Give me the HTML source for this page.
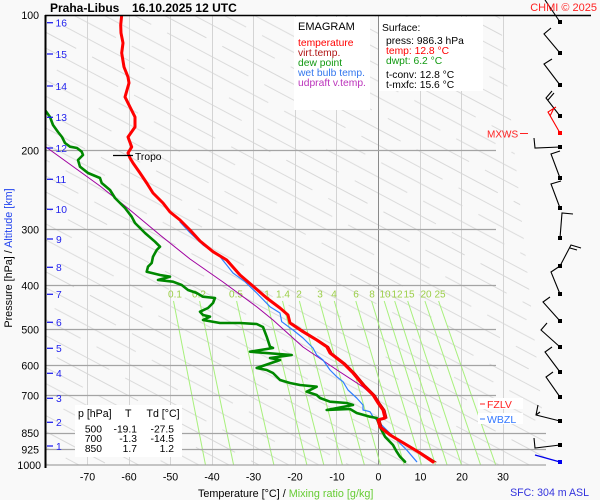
<!DOCTYPE html>
<html><head><meta charset="utf-8"><style>
html,body{margin:0;padding:0;background:#f9f9f9;}
svg{display:block;}
</style></head><body>
<svg width="600" height="500" viewBox="0 0 600 500" font-family="'Liberation Sans', Arial, sans-serif">
<defs>
<pattern id="ad" patternUnits="userSpaceOnUse" width="110" height="70.5" patternTransform="rotate(28)">
<g stroke="#d8d8d8" stroke-width="0.9" fill="none">
<path d="M0,7 H90 M108,7 H110"/>
<path d="M0,21.1 H35 M53,21.1 H110"/>
<path d="M0,35.2 H65 M83,35.2 H110"/>
<path d="M0,49.3 H10 M28,49.3 H110"/>
<path d="M0,63.4 H50 M68,63.4 H110"/>
</g>
</pattern>
<clipPath id="pc"><rect x="45" y="15" width="520" height="452"/></clipPath>
</defs>
<rect width="600" height="500" fill="#f9f9f9"/>
<!-- dry adiabats -->
<polygon points="46,16 500,16 548,465 46,465" fill="url(#ad)"/>
<!-- isotherms -->
<g stroke="#d4d4d4" stroke-width="1">
<line x1="87.5" y1="15" x2="87.5" y2="465"/>
<line x1="129.5" y1="15" x2="129.5" y2="465"/>
<line x1="170.5" y1="15" x2="170.5" y2="465"/>
<line x1="212.5" y1="15" x2="212.5" y2="465"/>
<line x1="253.5" y1="15" x2="253.5" y2="465"/>
<line x1="295.5" y1="15" x2="295.5" y2="465"/>
<line x1="336.5" y1="15" x2="336.5" y2="465"/>
<line x1="420.5" y1="15" x2="420.5" y2="465"/>
<line x1="461.5" y1="15" x2="461.5" y2="465"/>
<line x1="503.5" y1="15" x2="503.5" y2="465"/>
</g>
<line x1="378.5" y1="15" x2="378.5" y2="465" stroke="#8a8a8a" stroke-width="1"/>
<!-- mixing ratio lines -->
<g stroke="#a8f07c" stroke-width="1">
<line x1="173.5" y1="301" x2="205.5" y2="465"/>
<line x1="199.6" y1="301" x2="233.6" y2="465"/>
<line x1="236.6" y1="301" x2="273.9" y2="465"/>
<line x1="267" y1="301" x2="306.9" y2="465"/>
<line x1="282.5" y1="301" x2="323.8" y2="465"/>
<line x1="299.4" y1="301" x2="342.4" y2="465"/>
<line x1="319.5" y1="301" x2="364.4" y2="465"/>
<line x1="334.3" y1="301" x2="380.5" y2="465"/>
<line x1="355.8" y1="301" x2="404.2" y2="465"/>
<line x1="371.6" y1="301" x2="421.6" y2="465"/>
<line x1="384.2" y1="301" x2="435.5" y2="465"/>
<line x1="394.7" y1="301" x2="447.1" y2="465"/>
<line x1="407.7" y1="301" x2="461.5" y2="465"/>
<line x1="424.9" y1="301" x2="480.6" y2="465"/>
<line x1="438.6" y1="301" x2="495.7" y2="465"/>
</g>
<g fill="#9ccf48" font-size="10" text-anchor="middle">
<text x="175" y="297.5">0.1</text>
<text x="199" y="297.5">0.2</text>
<text x="236" y="297.5">0.5</text>
<text x="267" y="297.5">1</text>
<text x="283" y="297.5">1.4</text>
<text x="299" y="297.5">2</text>
<text x="320" y="297.5">3</text>
<text x="334" y="297.5">4</text>
<text x="356" y="297.5">6</text>
<text x="372" y="297.5">8</text>
<text x="385" y="297.5">10</text>
<text x="397" y="297.5">12</text>
<text x="409" y="297.5">15</text>
<text x="426" y="297.5">20</text>
<text x="440" y="297.5">25</text>
</g>
<!-- isobars -->
<g stroke="#a4a4a4" stroke-width="1.2">
<line x1="45" y1="150.5" x2="496" y2="150.5"/>
<line x1="45" y1="229.5" x2="496" y2="229.5"/>
<line x1="45" y1="285.5" x2="496" y2="285.5"/>
<line x1="45" y1="329.5" x2="496" y2="329.5"/>
<line x1="45" y1="365.5" x2="496" y2="365.5"/>
<line x1="45" y1="395.5" x2="496" y2="395.5"/>
<line x1="45" y1="433.5" x2="546" y2="433.5"/>
<line x1="45" y1="449.5" x2="546" y2="449.5"/>
<line x1="45" y1="465" x2="546" y2="465"/>
</g>
<!-- legend boxes -->
<rect x="294" y="17" width="76" height="93" fill="#ffffff"/>
<rect x="379" y="17" width="104" height="74" fill="#ffffff"/>
<g font-size="11"><text x="298" y="30">EMAGRAM</text></g>
<g font-size="10.3">
<text x="298" y="46" fill="#ff0000">temperature</text>
<text x="298" y="56" fill="#b01515">virt.temp.</text>
<text x="298" y="66" fill="#119911">dew point</text>
<text x="298" y="76" fill="#3377ee">wet bulb temp.</text>
<text x="298" y="86" fill="#bb33bb">udpraft v.temp.</text>
<text x="382" y="31">Surface:</text>
<text x="386" y="44">press: 986.3 hPa</text>
<text x="386" y="54" fill="#ff0000">temp: 12.8 °C</text>
<text x="386" y="64" fill="#119911">dwpt: 6.2 °C</text>
<text x="386" y="78">t-conv: 12.8 °C</text>
<text x="386" y="88">t-mxfc: 15.6 °C</text>
</g>
<!-- curves -->
<g fill="none" stroke-linejoin="round" stroke-linecap="round" clip-path="url(#pc)">
<polyline stroke="#a000a0" stroke-width="1" points="46,147 100,186 130,210 160,235 190,259 223,282 257,307 273,320 303,347 337,370 363,387 379,401"/>
<polyline stroke="#2f7fff" stroke-width="1.2" points="180,222 190,232.7 203,245 220,256.7 226.7,265 233,273 245,281.7 256.7,293 270,306.7 280,313 281.7,321.7 293,330 303,338 313,348 316.7,355 323,360 330,370 336.7,376.7 343,381.7 348,390 356.7,398 363,405 363,410 370,411.7 373,416.7 376.7,420 386.7,430 396.7,440 406.7,450 416.7,461.7"/>
<polyline stroke="#008800" stroke-width="2.6" points="45,110 50,117 53,125 58,132 62,137 65,143 70,146.7 77,148 81.7,151.7 83,155 78,160 80,166.7 88,173 100,178 101.7,183 110,190 115,198 125,208 131.7,216.7 135,223 145,233 155,241.7 160,246.7 156.7,250 153,256.7 151.7,263 148,266.7 146.7,271.7 160,275 170,276.7 158,280 173,281.7 181.7,285 188,290 196.7,293 203,296.7 215,298 213,303 208,308 200,311.7 203,315 210,316.7 203,320 220,323 240,323 256.7,324 263,327 266.7,336.7 270,346.7 273,348 250,351.7 291.7,355 270,358 280,360 256.7,368 266.7,370 273,373 280,380 290,383 300,385 316.7,386.7 306.7,391.7 316.7,395 320,398 330,401.7 346.7,403 353,405 326.7,410 350,409 356.7,413 370,416.7 376.7,418 380,427 385,436.7 393,445 396.7,451.7 400,456.7 405,461.7"/>
<polyline stroke="#c00000" stroke-width="1" transform="translate(2,0)" points="290,323 303,331.7 316.7,340 326.7,346.7 330,353 343,363 353,373 363,385 373,395 378,403 383,410 385,418 378,420 380,427 390,435 406.7,445 420,453 434,462"/>
<polyline stroke="#ff0000" stroke-width="3" points="121.7,15 120.7,25 121,33 123,43 121.7,53 124,67 128,77 129,83 125,97 130,107 135,117 135,127 128,137 131.7,147 128,153 130,158 133,163 140,173 146.7,183 153,193 163,203 170,212 180,220 190,230 200,241 213,251.7 226.7,260 240,275 251.7,285 266.7,298 280,308 288,315 290,323 303,331.7 316.7,340 326.7,346.7 330,353 343,363 353,373 363,385 373,395 378,403 383,410 385,418 378,420 380,427 390,435 406.7,445 420,453 433,462"/>
</g>
<!-- tropo -->
<line x1="113" y1="155.5" x2="133" y2="155.5" stroke="#000" stroke-width="1.2"/>
<text x="135" y="160" font-size="10.3">Tropo</text>
<!-- axes -->
<line x1="45" y1="15.5" x2="591" y2="15.5" stroke="#000" stroke-width="1.6"/>
<line x1="45.5" y1="15" x2="45.5" y2="468" stroke="#000" stroke-width="2"/>
<g font-size="10.6" text-anchor="end">
<text x="39" y="19">100</text>
<text x="39" y="154.5">200</text>
<text x="39" y="233.5">300</text>
<text x="39" y="289.5">400</text>
<text x="39" y="333.5">500</text>
<text x="39" y="369.5">600</text>
<text x="39" y="399.5">700</text>
<text x="39" y="437">850</text>
<text x="39" y="453.5">925</text>
<text x="41" y="469">1000</text>
</g>
<!-- altitude -->
<g stroke="#2222ee" stroke-width="1.3">
<line x1="47" y1="22.7" x2="53" y2="22.7"/>
<line x1="47" y1="54" x2="53" y2="54"/>
<line x1="47" y1="86" x2="53" y2="86"/>
<line x1="47" y1="117.3" x2="53" y2="117.3"/>
<line x1="47" y1="148" x2="53" y2="148"/>
<line x1="47" y1="179.3" x2="53" y2="179.3"/>
<line x1="47" y1="209.3" x2="53" y2="209.3"/>
<line x1="47" y1="239" x2="53" y2="239"/>
<line x1="47" y1="267.3" x2="53" y2="267.3"/>
<line x1="47" y1="294.3" x2="53" y2="294.3"/>
<line x1="47" y1="322.3" x2="53" y2="322.3"/>
<line x1="47" y1="348.3" x2="53" y2="348.3"/>
<line x1="47" y1="373.3" x2="53" y2="373.3"/>
<line x1="47" y1="398.3" x2="53" y2="398.3"/>
<line x1="47" y1="422.3" x2="53" y2="422.3"/>
<line x1="47" y1="446" x2="53" y2="446"/>
</g>
<g fill="#2222ee" font-size="10.3">
<text x="55.5" y="26.5">16</text>
<text x="55.5" y="58">15</text>
<text x="55.5" y="90">14</text>
<text x="55.5" y="121">13</text>
<text x="55.5" y="152">12</text>
<text x="55.5" y="183">11</text>
<text x="55.5" y="213">10</text>
<text x="56" y="243">9</text>
<text x="56" y="271">8</text>
<text x="56" y="298">7</text>
<text x="56" y="326">6</text>
<text x="56" y="352">5</text>
<text x="56" y="377">4</text>
<text x="56" y="402">3</text>
<text x="56" y="426">2</text>
<text x="56" y="450">1</text>
</g>
<!-- bottom labels -->
<g font-size="10.6" text-anchor="middle">
<text x="87.5" y="480.5">-70</text>
<text x="129" y="480.5">-60</text>
<text x="170.5" y="480.5">-50</text>
<text x="212" y="480.5">-40</text>
<text x="253.5" y="480.5">-30</text>
<text x="295" y="480.5">-20</text>
<text x="337" y="480.5">-10</text>
<text x="378.5" y="480.5">0</text>
<text x="420.5" y="480.5">10</text>
<text x="462" y="480.5">20</text>
<text x="503" y="480.5">30</text>
</g>
<text x="198" y="497" font-size="10.8">Temperature [°C]  /  <tspan fill="#66cc33">Mixing ratio [g/kg]</tspan></text>
<text x="589" y="496" font-size="10.6" fill="#3333dd" text-anchor="end">SFC: 304 m ASL</text>
<text transform="translate(12,258) rotate(-90)" font-size="10.8" text-anchor="middle">Pressure [hPa]  /  <tspan fill="#2244ee">Altitude [km]</tspan></text>
<!-- title -->
<text x="50" y="12" font-size="12" font-weight="bold">Praha-Libus</text>
<text x="132" y="12" font-size="12" font-weight="bold">16.10.2025 12 UTC</text>
<!-- table -->
<rect x="75" y="405" width="107" height="52" fill="#ffffff"/>
<g font-size="10.6">
<text x="78" y="417">p [hPa]</text>
<text x="125" y="417">T</text>
<text x="146.5" y="417">Td [°C]</text>
</g>
<g font-size="10.3" text-anchor="end">
<text x="102" y="432.5">500</text><text x="137" y="432.5">-19.1</text><text x="174" y="432.5">-27.5</text>
<text x="102" y="442">700</text><text x="137" y="442">-1.3</text><text x="174" y="442">-14.5</text>
<text x="102" y="452">850</text><text x="137" y="452">1.7</text><text x="174" y="452">1.2</text>
</g>
<!-- wind barbs -->
<g fill="none" stroke="#000" stroke-width="1.1">
<path d="M560,22 L545,0"/>
<path d="M560,53 L544,34 L551,28"/>
<path d="M560,85 L544,64 L552,59"/>
<path d="M560,116 L546,98 L552,91 M548,100 L554,93"/>
<path d="M560,147 L535,148 L534,138"/>
<path d="M560,178 L551,154 L560,151"/>
<path d="M560,208 L551,184 L561,181"/>
<path d="M560,238 L562,213 L573,214"/>
<path d="M560,266 L571,245 L581,248 M570,248 L577,250"/>
<path d="M560,294 L551,272 L560,266"/>
<path d="M560,321 L543,302 L550,297"/>
<path d="M560,347 L541,330 L547,323"/>
<path d="M560,372 L545,352 L552,347"/>
<path d="M560,397 L546,377 L553,372"/>
<path d="M560,421 L536,415 L538,405 M536,415 L540,412"/>
<path d="M560,445 L535,448 L534,438"/>
</g>
<path d="M560,133 L548,112 L556,107 M550,116 L554,108" fill="none" stroke="#ff0000" stroke-width="1.1"/>
<path d="M560,462 L535,455" fill="none" stroke="#0000ee" stroke-width="1.3"/>
<g fill="#000">
<rect x="558" y="20" width="4" height="4"/>
<rect x="558" y="51" width="4" height="4"/>
<rect x="558" y="83" width="4" height="4"/>
<rect x="558" y="114" width="4" height="4"/>
<rect x="558" y="145" width="4" height="4"/>
<rect x="558" y="176" width="4" height="4"/>
<rect x="558" y="206" width="4" height="4"/>
<rect x="558" y="236" width="4" height="4"/>
<rect x="558" y="264" width="4" height="4"/>
<rect x="558" y="292" width="4" height="4"/>
<rect x="558" y="319" width="4" height="4"/>
<rect x="558" y="345" width="4" height="4"/>
<rect x="558" y="370" width="4" height="4"/>
<rect x="558" y="395" width="4" height="4"/>
<rect x="558" y="419" width="4" height="4"/>
<rect x="558" y="443" width="4" height="4"/>
</g>
<rect x="558" y="131" width="4" height="4" fill="#ff0000"/>
<rect x="558" y="460" width="4" height="4" fill="#0000ee"/>
<!-- level labels -->
<text x="487" y="137.5" font-size="10" fill="#ff2222">MXWS</text>
<line x1="520" y1="133.5" x2="528" y2="133.5" stroke="#ff2222" stroke-width="1"/>
<rect x="478" y="398" width="45" height="11" fill="#ffffff"/>
<rect x="478" y="413" width="45" height="11" fill="#ffffff"/>
<line x1="480" y1="404" x2="485" y2="404" stroke="#ff2222" stroke-width="1"/>
<text x="487" y="408" font-size="10.5" fill="#ff2222">FZLV</text>
<line x1="480" y1="419" x2="485" y2="419" stroke="#3377ff" stroke-width="1"/>
<text x="487" y="423" font-size="10.5" fill="#3377ff">WBZL</text>
<text x="597" y="11" font-size="11" fill="#ff2222" text-anchor="end">CHMI © 2025</text>
</svg>
</body></html>
